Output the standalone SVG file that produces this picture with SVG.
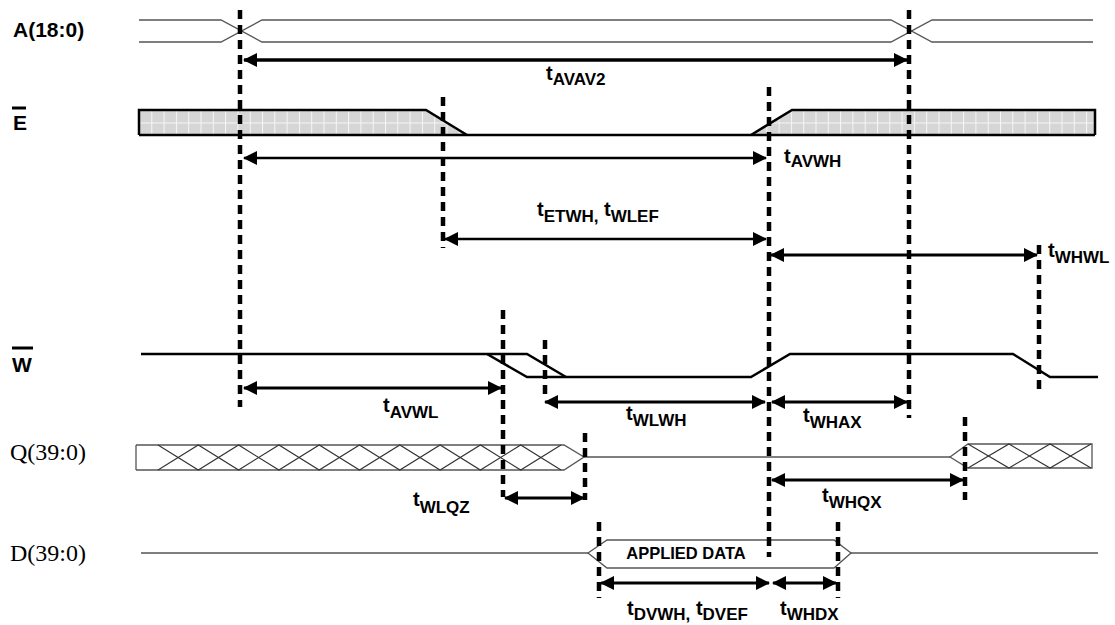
<svg xmlns="http://www.w3.org/2000/svg" width="1115" height="625" viewBox="0 0 1115 625">
<style>
.lbl{font-family:"Liberation Sans",Arial,sans-serif;font-weight:bold;font-size:21px;fill:#000}
.sig{font-family:"Liberation Serif","Times New Roman",serif;font-size:24px;fill:#000}
.t{font-family:"Liberation Sans",Arial,sans-serif;font-weight:bold;font-size:20px;fill:#000}
.s{font-size:17px}
.thin{fill:none;stroke:#555;stroke-width:1.3}
.wire{fill:none;stroke:#000;stroke-width:2.5}
.hatch{fill:none;stroke:#333;stroke-width:1.1}
.dash{fill:none;stroke:#000;stroke-width:4.5;stroke-dasharray:9 6}
.arr{fill:none;stroke:#000;stroke-width:3;marker-start:url(#ah);marker-end:url(#ah)}
.data{font-family:"Liberation Sans",Arial,sans-serif;font-weight:bold;font-size:16.5px;fill:#000}
</style>
<defs>
<marker id="ah" markerUnits="userSpaceOnUse" markerWidth="14" markerHeight="14" refX="13" refY="7" orient="auto-start-reverse">
<path d="M0,0 L14,7 L0,14 z" fill="#000"/>
</marker>
<pattern id="dots" patternUnits="userSpaceOnUse" width="12.3" height="12.5" x="139" y="110">
<rect width="12.3" height="12.5" fill="#d6d6d6"/>
<rect x="0" y="0" width="12.3" height="1" fill="#f6f6f6"/>
<rect x="0" y="0" width="1" height="12.5" fill="#f6f6f6"/>
</pattern>
</defs>

<g id="labels">
<text class="lbl" x="13" y="37">A(18:0)</text>
<g id="label-E"><line x1="12" y1="108" x2="26" y2="108" stroke="#000" stroke-width="3"/><text class="lbl" x="13" y="130">E</text></g>
<g id="label-W"><line x1="12" y1="348" x2="33" y2="348" stroke="#000" stroke-width="3"/><text class="lbl" x="12" y="372">W</text></g>
<text class="sig" x="10" y="460">Q(39:0)</text>
<text class="sig" x="10" y="561">D(39:0)</text>
</g>

<g id="sig-A">
<path class="thin" d="M139,20 L221,20 L262,42 L891,42 L932,20 L1093,20"/>
<path class="thin" d="M139,42 L221,42 L262,20 L891,20 L932,42 L1093,42"/>
</g>

<g id="sig-E">
<path d="M139,110 L426,110 L467,135 L139,135 Z" fill="url(#dots)"/>
<path d="M751,135 L792,110 L1095,110 L1095,135 Z" fill="url(#dots)"/>
<path class="wire" d="M139,135 L139,110 L426,110 L467,135"/>
<path class="wire" d="M139,135 L1095,135"/>
<path class="wire" d="M751,135 L792,110 L1095,110 L1095,135"/>
</g>

<g id="sig-W">
<path class="wire" d="M141,354 L527,354 L566,377"/>
<path class="wire" d="M487,354 L527,377 L751,377 L790,354 L1013,354 L1050,377 L1098,377"/>
</g>

<g id="sig-Q">
<path class="thin" d="M136,445 L136,470 M136,445 L564,445 L584,457 L564,470 L136,470"/>
<path class="hatch" d="M158,445 L198.3,470 L238.6,445 L278.9,470 L319.2,445 L359.5,470 L399.8,445 L440.1,470 L480.4,445 L520.7,470 L561,445"/>
<path class="hatch" d="M158,470 L198.3,445 L238.6,470 L278.9,445 L319.2,470 L359.5,445 L399.8,470 L440.1,445 L480.4,470 L520.7,445 L561,470"/>
<path class="thin" d="M584,457 L950,457"/>
<path class="thin" d="M950,457 L968,444 L1092,444 L1092,468 L968,468 Z"/>
<path class="hatch" d="M968,444 L1009,468 L1050,444 L1091,468"/>
<path class="hatch" d="M968,468 L1009,444 L1050,468 L1091,444"/>
</g>

<g id="sig-D">
<path class="thin" d="M141,553 L588,553 M851,553 L1098,553"/>
<path class="thin" d="M588,553 L607,540 L834,540 L851,553 L834,568 L607,568 Z"/>
<text class="data" x="686" y="559" text-anchor="middle">APPLIED DATA</text>
</g>

<g id="guides">
<line class="dash" x1="240" y1="10" x2="240" y2="407"/>
<line class="dash" x1="909" y1="10" x2="909" y2="418"/>
<line class="dash" x1="443" y1="97" x2="443" y2="248"/>
<line class="dash" x1="769" y1="87" x2="769" y2="557"/>
<line class="dash" x1="1039" y1="245" x2="1039" y2="395"/>
<line class="dash" x1="503" y1="310" x2="503" y2="497"/>
<line class="dash" x1="545" y1="340" x2="545" y2="400"/>
<line class="dash" x1="585" y1="433" x2="585" y2="500"/>
<line class="dash" x1="965" y1="417" x2="965" y2="500"/>
<line class="dash" x1="599" y1="522" x2="599" y2="598"/>
<line class="dash" x1="838" y1="522" x2="838" y2="598"/>
</g>

<g id="connectors">
<line class="arr" x1="244" y1="60" x2="907" y2="60" style="stroke-width:3.5"/>
<line class="arr" x1="244" y1="158" x2="766" y2="158" style="stroke-width:2.5"/>
<line class="arr" x1="445" y1="239" x2="766" y2="239" style="stroke-width:2.5"/>
<line class="arr" x1="771" y1="255" x2="1037" y2="255"/>
<line class="arr" x1="244" y1="388" x2="501" y2="388"/>
<line class="arr" x1="545" y1="402" x2="765" y2="402"/>
<line class="arr" x1="772" y1="402" x2="907" y2="402"/>
<line class="arr" x1="505" y1="498" x2="584" y2="498"/>
<line class="arr" x1="772" y1="480" x2="963" y2="480"/>
<line class="arr" x1="601" y1="583" x2="769" y2="583"/>
<line class="arr" x1="773" y1="583" x2="836" y2="583"/>
</g>

<g id="timing-labels">
<text class="t" x="546" y="80">t<tspan class="s" dy="5">AVAV2</tspan></text>
<text class="t" x="784" y="163">t<tspan class="s" dy="4">AVWH</tspan></text>
<text class="t" x="537" y="216">t<tspan class="s" dy="6">ETWH,</tspan><tspan dy="-6"> t</tspan><tspan class="s" dy="6">WLEF</tspan></text>
<text class="t" x="1048" y="257">t<tspan class="s" dy="6">WHWL</tspan></text>
<text class="t" x="383" y="412">t<tspan class="s" dy="6">AVWL</tspan></text>
<text class="t" x="626" y="420">t<tspan class="s" dy="6">WLWH</tspan></text>
<text class="t" x="803" y="422">t<tspan class="s" dy="6">WHAX</tspan></text>
<text class="t" x="413" y="506">t<tspan class="s" dy="7">WLQZ</tspan></text>
<text class="t" x="822" y="502">t<tspan class="s" dy="6">WHQX</tspan></text>
<text class="t" x="627" y="615">t<tspan class="s" dy="5">DVWH,</tspan><tspan dy="-5"> t</tspan><tspan class="s" dy="5">DVEF</tspan></text>
<text class="t" x="780" y="615">t<tspan class="s" dy="5">WHDX</tspan></text>
</g>
</svg>
